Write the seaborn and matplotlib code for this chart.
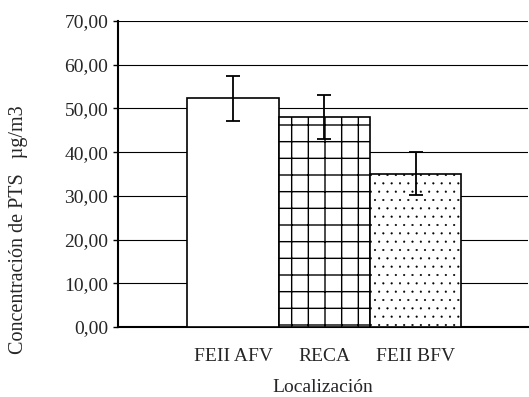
import matplotlib
matplotlib.use("Agg")
import matplotlib.pyplot as plt
import seaborn as sns
import pandas as pd

# datos
localizacion = ["FEII AFV", "RECA", "FEII BFV"]
concentracion = [52.3, 48.0, 35.1]
error = [5.1, 5.1, 5.0]
tramas = ["", "+", ".."]
yticks = [0, 10, 20, 30, 40, 50, 60, 70]

sns.set_theme(style="white")
plt.rcParams['font.family'] = ['Liberation Serif', 'DejaVu Serif']
plt.rcParams['hatch.linewidth'] = 1.0

df = pd.DataFrame({"Localización": localizacion, "PTS": concentracion})

fig = plt.figure(figsize=(5.29, 3.97), dpi=100)
ax = fig.add_axes([118/529, 70/397, 410/529, 306/397])

sns.barplot(data=df, x="Localización", y="PTS", color="white", width=1.0,
            edgecolor="black", linewidth=1.2, errorbar=None, ax=ax, zorder=3)
for p, h in zip(ax.patches, tramas):
    p.set_facecolor("white")
    p.set_hatch(h)
    if h == ".." and hasattr(p, "set_hatch_linewidth"):
        p.set_hatch_linewidth(0.3)

# barras de error
ax.errorbar(ax.get_xticks(), concentracion, yerr=error, fmt="none", ecolor="black",
            elinewidth=1.3, capsize=4.7, capthick=1.3, zorder=4)

ax.set_xlim(-1.26, 3.23)
ax.set_ylim(0, 70)
ax.set_yticks(yticks)
ax.set_yticklabels([f"{v:.2f}".replace(".", ",") for v in yticks])
ax.yaxis.grid(True, color="black", lw=0.8)
ax.set_axisbelow(True)

ax.tick_params(axis="y", left=True, length=3.6, width=1, color="black", pad=3.5, labelsize=14)
ax.tick_params(axis="x", bottom=False, length=0, pad=15, labelsize=14)

for s in ["top", "right"]:
    ax.spines[s].set_visible(False)
for s in ["left", "bottom"]:
    ax.spines[s].set_color("black")
    ax.spines[s].set_linewidth(1.5)

ax.set_xlabel("Localización", fontsize=14, labelpad=10.5)
ax.set_ylabel("")
fig.text(19/529, 1 - 230/397, "Concentración de PTS   µg/m3", rotation=90,
         ha="center", va="center", fontsize=14.5)

fig.savefig("out.png", dpi=100)
